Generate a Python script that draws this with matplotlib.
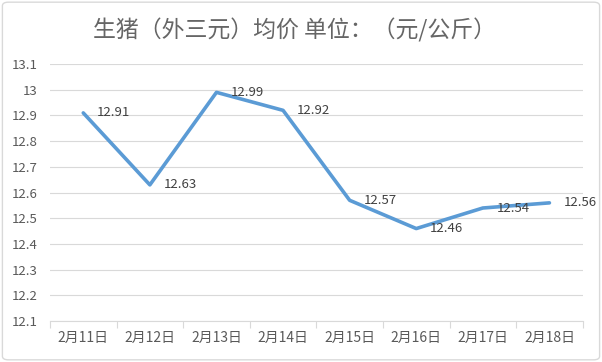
import matplotlib.pyplot as plt
from matplotlib.patches import FancyBboxPatch
from matplotlib.ticker import FixedLocator, FuncFormatter

plt.rcParams['font.family'] = ['Noto Sans CJK SC', 'DejaVu Sans']

dates = ['2月11日', '2月12日', '2月13日', '2月14日', '2月15日', '2月16日', '2月17日', '2月18日']
prices = [12.91, 12.63, 12.99, 12.92, 12.57, 12.46, 12.54, 12.56]
y_ticks = [12.1, 12.2, 12.3, 12.4, 12.5, 12.6, 12.7, 12.8, 12.9, 13.0, 13.1]

text_color = '#595959'
grid_color = '#D9D9D9'

fig = plt.figure(figsize=(6.02, 3.62), dpi=100)
ax = fig.add_axes([0.083, 0.113, 0.885, 0.71])

x = list(range(len(dates)))
ax.plot(x, prices, color='#5B9BD5', linewidth=2.6, solid_joinstyle='round',
        solid_capstyle='round', zorder=3)
for xi, v in zip(x, prices):
    ax.annotate(f'{v:.2f}', (xi, v), xytext=(10, 0), textcoords='offset points',
                ha='left', va='center', fontsize=9.5, color='#404040', zorder=4)

ax.set_xlim(-0.5, len(dates) - 0.5)
ax.set_ylim(12.1, 13.1)
ax.set_yticks(y_ticks)
ax.yaxis.set_major_formatter(FuncFormatter(lambda v, p: f'{round(v, 1):g}'))
ax.set_xticks(x)
ax.set_xticklabels(dates)
ax.xaxis.set_minor_locator(FixedLocator([i - 0.5 for i in range(len(dates) + 1)]))

ax.tick_params(axis='x', which='major', length=0, pad=7, labelsize=10, labelcolor=text_color)
ax.tick_params(axis='x', which='minor', length=5, width=0.8, color=grid_color, direction='out')
ax.tick_params(axis='y', length=0, pad=9, labelsize=9.5, labelcolor=text_color)

ax.grid(axis='y', color=grid_color, linewidth=0.8)
ax.set_axisbelow(True)
for side in ['top', 'right', 'left']:
    ax.spines[side].set_visible(False)
ax.spines['bottom'].set_color(grid_color)
ax.spines['bottom'].set_linewidth(0.8)

fig.text(0.49, 0.915, '生猪（外三元）均价 单位：（元/公斤）', ha='center', va='center',
         fontsize=16.5, color='#666666')

border = FancyBboxPatch((0.004, 0.006), 0.992, 0.988, boxstyle='round,pad=0,rounding_size=0.01',
                        transform=fig.transFigure, facecolor='none', edgecolor='#D9D9D9',
                        linewidth=1.0)
fig.patches.append(border)

fig.savefig('out.png', dpi=100)
